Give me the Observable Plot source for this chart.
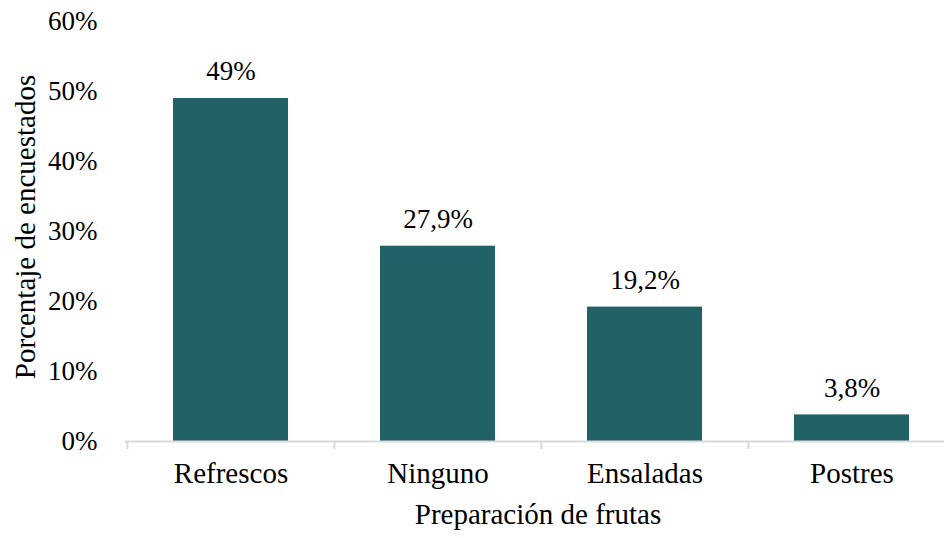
<!DOCTYPE html>
<html>
<head>
<meta charset="utf-8">
<script src="https://cdn.jsdelivr.net/npm/d3@7"></script>
<script src="https://cdn.jsdelivr.net/npm/@observablehq/plot@0.6"></script>
<style>
  html, body { margin: 0; padding: 0; background: #fff; }
  svg text { font-family: "Liberation Serif", serif !important; font-variant: normal !important; }
</style>
</head>
<body>
<div id="chart"></div>
<script>
const categories = ["Refrescos", "Ninguno", "Ensaladas", "Postres"];
const values = [49, 27.9, 19.2, 3.8];
const yTicks = [0, 10, 20, 30, 40, 50, 60];
const xTitle = "Preparación de frutas";
const yTitle = "Porcentaje de encuestados";

const data = categories.map((c, i) => ({cat: c, val: values[i]}));
const fmt = v => String(v).replace(".", ",") + "%";
const FONT = "Liberation Serif";
const FS = 27;   // numbers
const FW = 29;   // words
const barColor = "#226266";
const axisGray = "#d9d9d9";

const xRange = [126, 955];
const step = (xRange[1] - xRange[0]) / categories.length;

const chart = Plot.plot({
  width: 944,
  height: 538,
  marginLeft: 125,
  marginRight: 0,
  marginTop: 0,
  marginBottom: 97,
  style: {fontFamily: FONT, fontSize: FS + "px", color: "#000", background: "#fff"},
  x: {domain: categories, range: xRange, paddingInner: 0.445, paddingOuter: 0.2225, label: null},
  y: {domain: [0, 60], range: [441, 21], label: null},
  marks: [
    Plot.barY(data, {x: "cat", y: "val", fill: barColor}),
    Plot.ruleY([0], {stroke: axisGray, strokeWidth: 2}),
    Plot.ruleX(categories, {x: d => d, y1: 0, y2: -1.15, dx: -step / 2, stroke: axisGray, strokeWidth: 2}),
    Plot.text(data, {x: "cat", y: "val", text: d => fmt(d.val), dy: -27, fontSize: FS, fontFamily: FONT, fill: "#000"}),
    Plot.axisY({ticks: yTicks, tickFormat: d => d + "%", tickSize: 0, tickPadding: 28, fontSize: FS, fontFamily: FONT, label: null}),
    Plot.axisX({tickSize: 0, tickPadding: 21, fontSize: FW, fontFamily: FONT, label: null}),
    Plot.text([xTitle], {frameAnchor: "bottom", text: d => d, dy: 82, dx: 3, fontSize: FW, fontFamily: FONT, fill: "#000"}),
    Plot.text([yTitle], {frameAnchor: "left", text: d => d, rotate: -90, textAnchor: "middle", dx: -100, dy: 6, fontSize: FW, fontFamily: FONT, fill: "#000"})
  ]
});
document.getElementById("chart").appendChild(chart);
</script>
</body>
</html>
